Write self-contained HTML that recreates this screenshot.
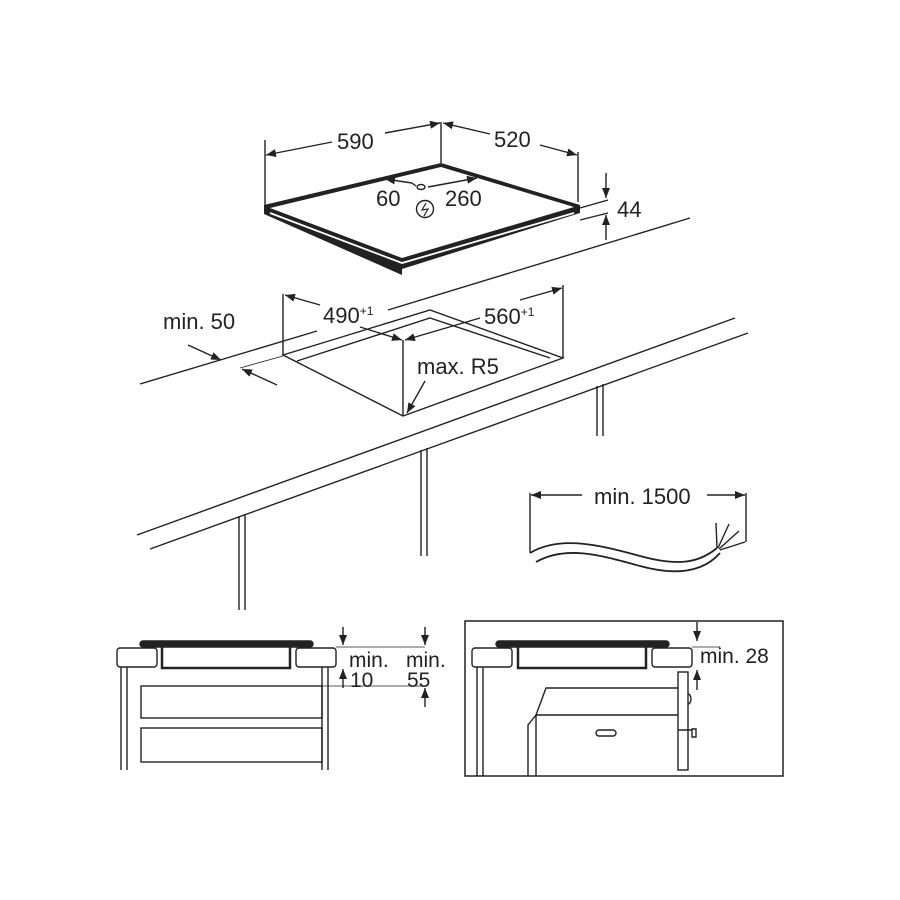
<!DOCTYPE html>
<html><head><meta charset="utf-8"><style>
html,body{margin:0;padding:0;background:#fff}
svg{display:block}
text{font-family:"Liberation Sans",Arial,sans-serif;fill:#222}
</style></head><body>
<svg width="900" height="900" viewBox="0 0 900 900" xmlns="http://www.w3.org/2000/svg">
<defs>
<marker id="a" viewBox="0 0 10 10" refX="10" refY="5" markerWidth="10" markerHeight="10" orient="auto-start-reverse" markerUnits="userSpaceOnUse">
<path d="M0,1 L10,5 L0,9 z" fill="#222"/></marker>
</defs>
<g stroke="#222" fill="none" stroke-width="1.4">
<!-- HOB -->
<path d="M264,205 L441,163 L580,205 L580,213 L402,269 L402,275 L264,214 Z" fill="#222" stroke="none"/>
<path d="M270,208 L441,167 L574,207 L402,258 Z" fill="#fff" stroke="none"/>
<path d="M270,213 L402,263 L574,213" stroke="#fff" stroke-width="1.8"/>
<line x1="265" y1="140" x2="265" y2="205"/>
<line x1="441" y1="122" x2="441" y2="163"/>
<line x1="578" y1="152" x2="578" y2="202"/>
<line x1="332" y1="142" x2="266" y2="155" marker-end="url(#a)"/>
<line x1="385" y1="133" x2="440" y2="123" marker-end="url(#a)"/>
<line x1="490" y1="134" x2="443" y2="123" marker-end="url(#a)"/>
<line x1="540" y1="145" x2="577" y2="155" marker-end="url(#a)"/>
<line x1="412" y1="183" x2="385" y2="179" marker-end="url(#a)"/>
<line x1="412" y1="183" x2="416" y2="186"/>
<line x1="428" y1="187" x2="477" y2="178" marker-end="url(#a)"/>
<ellipse cx="421" cy="187" rx="4" ry="2.5"/>
<circle cx="425" cy="209" r="8.5"/>
<path d="M426,203 L422,210 L428,209 L424,216" stroke-width="1.2"/>
<!-- 44 -->
<line x1="580" y1="208" x2="608" y2="200"/>
<line x1="580" y1="220" x2="608" y2="213"/>
<line x1="606" y1="173" x2="606" y2="198" marker-end="url(#a)"/>
<line x1="606" y1="240" x2="606" y2="215" marker-end="url(#a)"/>
<!-- WORKTOP -->
<line x1="140" y1="384" x2="317" y2="331"/>
<line x1="388" y1="310" x2="690" y2="218"/>
<line x1="137" y1="535" x2="735" y2="318"/>
<line x1="150" y1="549" x2="748" y2="333"/>
<line x1="239" y1="516" x2="239" y2="610"/><line x1="245" y1="514" x2="245" y2="610"/>
<line x1="421" y1="450" x2="421" y2="556"/><line x1="427" y1="448" x2="427" y2="556"/>
<line x1="597" y1="386" x2="597" y2="436"/><line x1="603" y1="384" x2="603" y2="436"/>
<!-- cutout -->
<path d="M283,355 L430,310 L563,358 L403,416 Z" fill="#fff"/>
<path d="M297,361 L430,318 L550,358"/>
<line x1="283" y1="294" x2="283" y2="355"/>
<line x1="563" y1="285" x2="563" y2="358"/>
<line x1="403" y1="340" x2="403" y2="416"/>
<line x1="320" y1="305" x2="285" y2="295" marker-end="url(#a)"/>
<line x1="360" y1="327" x2="402" y2="340" marker-end="url(#a)"/>
<line x1="480" y1="318" x2="405" y2="340" marker-end="url(#a)"/>
<line x1="520" y1="300" x2="562" y2="288" marker-end="url(#a)"/>
<line x1="425" y1="381" x2="407" y2="413" marker-end="url(#a)"/>
<!-- min 50 -->
<line x1="188" y1="345" x2="221" y2="360" marker-end="url(#a)"/>
<line x1="277" y1="385" x2="242" y2="369" marker-end="url(#a)"/>
<line x1="240" y1="368" x2="283" y2="356" stroke-width="0.8"/>
<!-- cable -->
<line x1="530" y1="493" x2="530" y2="553"/>
<line x1="746" y1="493" x2="746" y2="542"/>
<line x1="582" y1="495" x2="531" y2="495" marker-end="url(#a)"/>
<line x1="707" y1="495" x2="745" y2="495" marker-end="url(#a)"/>
<path d="M530,553 C560,535 600,545 640,556 C680,567 700,562 717,548" stroke-width="1.8"/>
<path d="M536,562 C566,545 600,555 640,566 C680,577 705,570 720,553" stroke-width="1.8"/>
<path d="M717,548 L716,523 M718,548 L729,524 M719,549 L739,531 M720,550 L745,542"/>
<!-- BOTTOM LEFT -->
<rect x="140" y="641" width="173" height="6" rx="3" fill="#222"/>
<rect x="117" y="648" width="40" height="19" rx="3"/>
<rect x="296" y="648" width="40" height="19" rx="3"/>
<path d="M162,647 V668 H290 V647" stroke-width="2.5"/>
<line x1="121" y1="667" x2="121" y2="770"/><line x1="127" y1="667" x2="127" y2="770"/>
<line x1="322" y1="667" x2="322" y2="770"/><line x1="328" y1="667" x2="328" y2="770"/>
<rect x="141" y="686" width="181" height="32"/>
<rect x="141" y="728" width="181" height="34"/>
<line x1="336" y1="647" x2="425" y2="647" stroke-width="0.8"/>
<line x1="322" y1="686" x2="425" y2="686" stroke-width="0.8"/>
<line x1="343" y1="627" x2="343" y2="645" marker-end="url(#a)"/>
<line x1="343" y1="688" x2="343" y2="669" marker-end="url(#a)"/>
<line x1="425" y1="627" x2="425" y2="645" marker-end="url(#a)"/>
<line x1="425" y1="707" x2="425" y2="688" marker-end="url(#a)"/>
<!-- BOTTOM RIGHT -->
<rect x="465" y="621" width="318" height="155" stroke-width="1.5"/>
<rect x="496" y="641" width="173" height="6" rx="3" fill="#222"/>
<rect x="472" y="648" width="40" height="19" rx="3"/>
<rect x="652" y="648" width="40" height="19" rx="3"/>
<path d="M518,647 V668 H646 V647" stroke-width="2.5"/>
<line x1="477" y1="667" x2="477" y2="776"/><line x1="483" y1="667" x2="483" y2="776"/>
<path d="M678,688 H546 L536,715 H678"/>
<path d="M536,715 L528,725 V776 M536,715 V776"/>
<rect x="678" y="672" width="10" height="98"/>
<path d="M688,694 a3,5 0 0 1 0,10"/>
<rect x="596" y="730" width="20" height="6" rx="3"/>
<path d="M678,730 H692 M692,729 h4 v8 h-4 z"/>
<line x1="692" y1="647" x2="720" y2="647" stroke-width="0.8"/>
<line x1="697" y1="622" x2="697" y2="641" marker-end="url(#a)"/>
<line x1="697" y1="690" x2="697" y2="670" marker-end="url(#a)"/>
</g>
<g font-size="22">
<text x="337" y="149">590</text>
<text x="494" y="147">520</text>
<text x="376" y="206">60</text>
<text x="445" y="206">260</text>
<text x="617" y="217">44</text>
<text x="323" y="323">490<tspan font-size="12" dy="-8">+1</tspan></text>
<text x="484" y="324">560<tspan font-size="12" dy="-8">+1</tspan></text>
<text x="417" y="374">max. R5</text>
<text x="163" y="329">min. 50</text>
<text x="594" y="504">min. 1500</text>
</g>
<g font-size="21">
<text x="349" y="667">min.</text>
<text x="350" y="687">10</text>
<text x="406" y="667">min.</text>
<text x="407" y="687">55</text>
<text x="700" y="663">min. 28</text>
</g>
</svg>
</body></html>
